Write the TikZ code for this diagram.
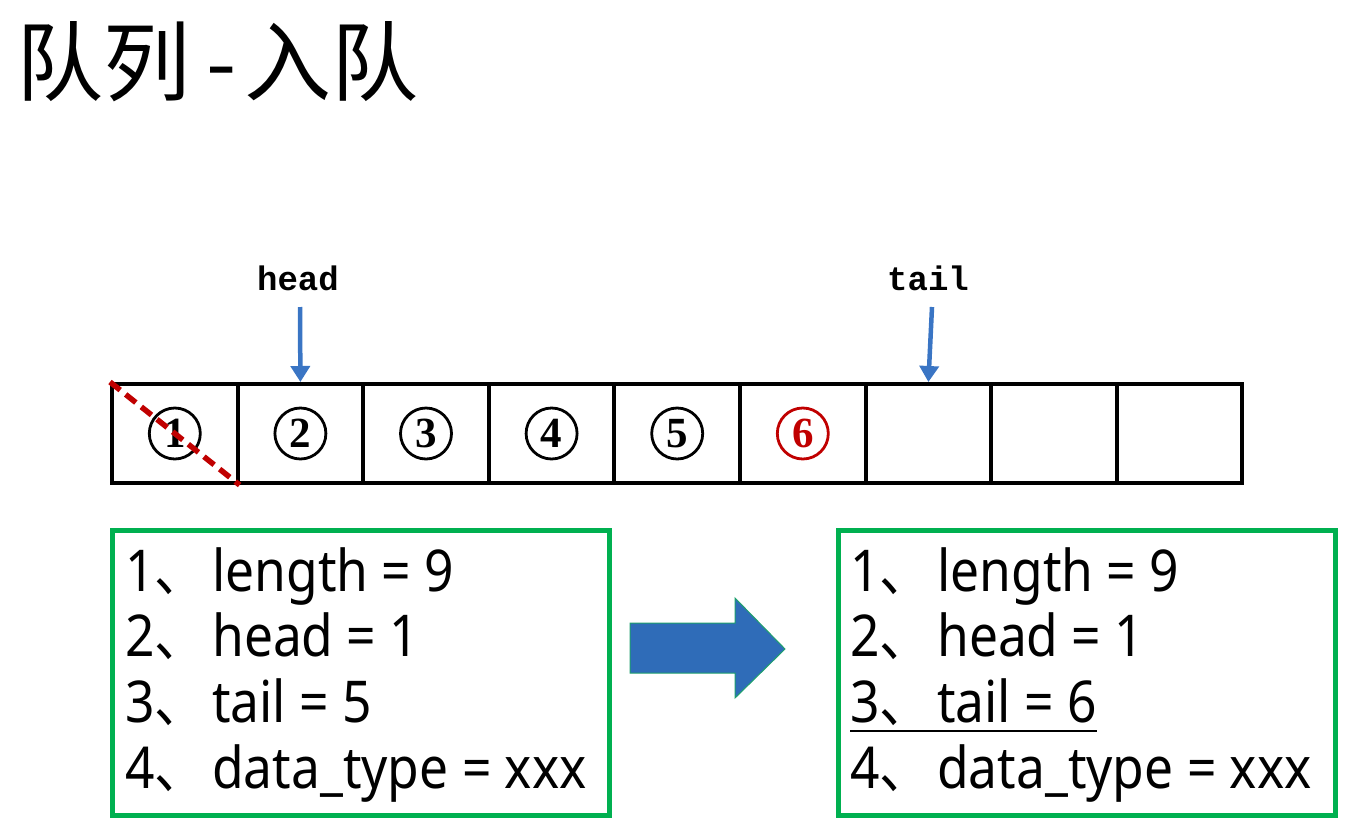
\documentclass[tikz,border=0pt]{standalone}
\usepackage{fontspec}
\usetikzlibrary{arrows.meta}
\setmainfont{Noto Sans}
\newfontfamily\cjk{Noto Sans CJK SC}
\newfontfamily\serifb{Liberation Serif}
\newfontfamily\monob{Liberation Mono}
\definecolor{boxgreen}{RGB}{0,176,80}
\definecolor{ptrblue}{RGB}{58,117,196}
\definecolor{darkred}{RGB}{192,0,0}
\definecolor{bigblue}{RGB}{47,108,184}
\definecolor{edgegreen}{RGB}{30,160,110}
\newcommand{\infoline}[2]{\scalebox{1}[1.12]{\makebox[87pt][l]{#1\cjk、}#2}}
\begin{document}
\begin{tikzpicture}[x=1pt,y=-1pt,
  cell/.style={draw,line width=4pt,minimum width=125.6pt,minimum height=99pt,inner sep=0pt,anchor=north west},
  num/.style={circle,draw,line width=2.8pt,minimum size=51pt,inner sep=0pt,font=\serifb\bfseries\fontsize{43}{43}\selectfont},
  ptrlbl/.style={font=\monob\bfseries\fontsize{34}{34}\selectfont,inner sep=0pt},
  ptr/.style={draw=ptrblue,line width=4.5pt,-{Triangle[length=16pt,width=19pt]}},
  infobox/.style={draw=boxgreen,line width=4.5pt,minimum width=497pt,minimum height=285pt,inner sep=0pt,anchor=north west},
  line/.style={anchor=base west,inner sep=0pt,font=\fontsize{51.5}{52}\selectfont}
]
\useasboundingbox (0,0) rectangle (1346,830);
% title
\node[anchor=base west,inner sep=0pt,font=\cjk\fontsize{87}{87}\selectfont] (title) at (16,94) {队列\hspace{16pt}-\hspace{8pt}入队};
% cells
\foreach \i in {1,...,9}{
  \node[cell] (c\i) at ({110+(\i-1)*125.6},382) {};
}
\foreach \i/\d in {1/1,2/2,3/3,4/4,5/5}{
  \node[num] (n\i) at (c\i.center) {\d};
}
\node[num,draw=darkred,text=darkred] (n6) at (c6.center) {6};
\draw[darkred,line width=5.5pt,dash pattern=on 13pt off 7pt] (c1.north west) -- (c1.south east);
% pointers
\node[ptrlbl] (head) at (298,278) {head};
\node[ptrlbl] (tail) at (928,278) {tail};
\coordinate (hs) at (300,307);
\coordinate (ts) at (932,307);
\draw[ptr] (hs) -- (c2.north);
\draw[ptr] (ts) -- (c7.north);
% boxes
\node[infobox] (b1) at (110,528) {};
\node[infobox] (b2) at (836,528) {};
\node[line] (l11) at (125,591) {\infoline{1}{length = 9}};
\node[line] (l12) at (125,656) {\infoline{2}{head = 1}};
\node[line] (l13) at (125,722) {\infoline{3}{tail = 5}};
\node[line] (l14) at (125,788) {\infoline{4}{data\_type = xxx}};
\node[line] (l21) at (850,591) {\infoline{1}{length = 9}};
\node[line] (l22) at (850,656) {\infoline{2}{head = 1}};
\node[line] (l23) at (850,722) {\infoline{3}{tail = 6}};
\node[line] (l24) at (850,788) {\infoline{4}{data\_type = xxx}};
\draw[line width=2.5pt] ([yshift=-9pt]l23.base west) -- ([yshift=-9pt]l23.base east);
% big arrow
\draw[fill=bigblue,draw=edgegreen,line width=1pt]
  (630,623) -- (735,623) -- (735,598) -- (785,649) -- (735,698) -- (735,673) -- (630,673) -- cycle;
\end{tikzpicture}
\end{document}
